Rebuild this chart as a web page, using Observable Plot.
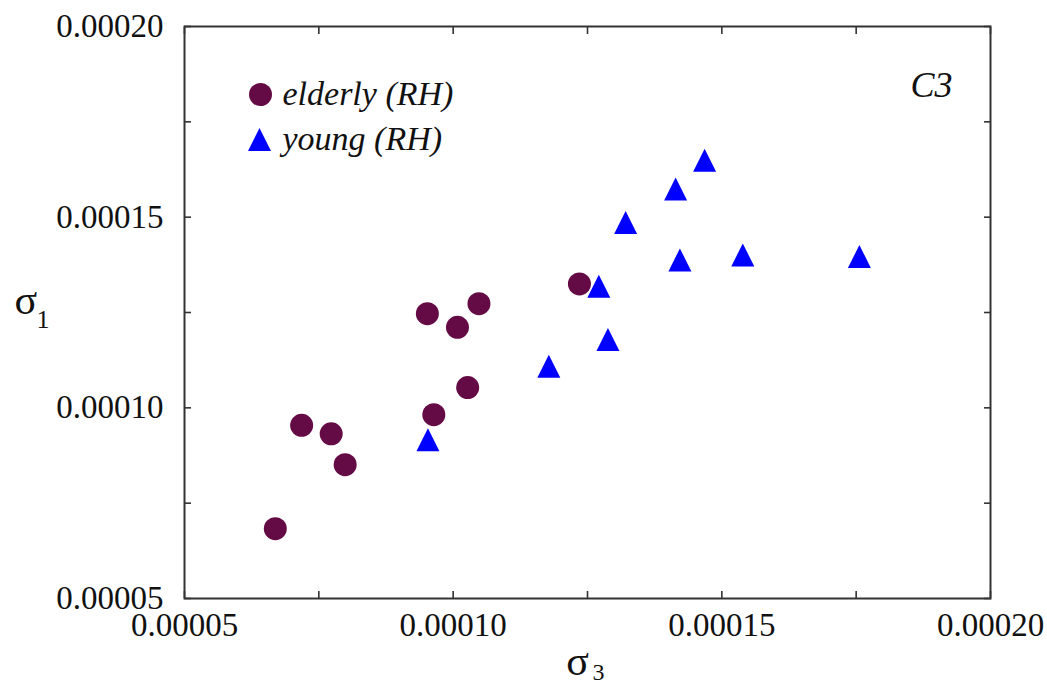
<!DOCTYPE html>
<html><head><meta charset="utf-8">
<script src="https://cdn.jsdelivr.net/npm/d3@7"></script>
<script src="https://cdn.jsdelivr.net/npm/@observablehq/plot@0.6"></script>
<style>body{margin:0;background:#fff}</style>
</head><body><div id="chart"></div>
<script>
// ---- data ----
const seriesNames = ["elderly (RH)", "young (RH)"];
const elderlyX = [0.0000669, 0.0000718, 0.0000773, 0.0000799, 0.0000952, 0.0000964, 0.0001008, 0.0001027, 0.0001048, 0.0001235];
const elderlyY = [0.0000683, 0.0000954, 0.0000932, 0.0000851, 0.0001247, 0.0000982, 0.0001211, 0.0001053, 0.0001273, 0.0001325];
const youngX = [0.0000953, 0.0001178, 0.0001271, 0.0001288, 0.0001321, 0.0001414, 0.0001422, 0.0001468, 0.0001539, 0.0001756];
const youngY = [0.0000916, 0.0001109, 0.0001319, 0.0001179, 0.0001486, 0.0001574, 0.0001388, 0.0001649, 0.0001401, 0.0001397];
const majorTicks = [0.00005, 0.00010, 0.00015, 0.00020];
const minorTicks = [0.00005, 0.000075, 0.00010, 0.000125, 0.00015, 0.000175, 0.00020];
const axisSymbol = "σ";
const xSub = "3";
const ySub = "1";
const panelLabel = "C3";

// ---- build ----
const elderly = elderlyX.map((x, i) => ({x, y: elderlyY[i]}));
const young = youngX.map((x, i) => ({x, y: youngY[i]}));
const fmt = d3.format(".5f");
const serif = "Liberation Serif";
const maroon = "#640a44";
const blue = "#0000ff";
const ink = "#111";
const frameInk = "#333";

// isoceles triangle: width == height, centred on its vertical midpoint
const tri = {
  draw(ctx, size) {
    const r = Math.sqrt(size / Math.PI);
    ctx.moveTo(0, -r);
    ctx.lineTo(r, r);
    ctx.lineTo(-r, r);
    ctx.closePath();
  }
};

const tickOpts = {ticks: minorTicks, tickSize: -7, fill: "none", stroke: frameInk, strokeWidth: 1.6, label: null};
const labOpts = {ticks: majorTicks, tickSize: 0, tickFormat: fmt, fontSize: 33, fontFamily: serif, fill: ink, stroke: "none", label: null};
const txt = {text: d => d, fontFamily: serif, fill: ink, lineAnchor: "middle"};

const chart = Plot.plot({
  width: 1047, height: 688,
  marginLeft: 184, marginRight: 57, marginTop: 26, marginBottom: 90,
  style: {fontFamily: serif, background: "#fff", overflow: "visible"},
  x: {domain: [0.00005, 0.0002], label: null},
  y: {domain: [0.00005, 0.0002], label: null},
  marks: [
    Plot.axisX({...tickOpts, anchor: "bottom"}),
    Plot.axisX({...tickOpts, anchor: "top"}),
    Plot.axisY({...tickOpts, anchor: "left"}),
    Plot.axisY({...tickOpts, anchor: "right"}),
    Plot.axisX({...labOpts, anchor: "bottom", tickPadding: 14}),
    Plot.axisY({...labOpts, anchor: "left", tickPadding: 21}),
    Plot.frame({stroke: frameInk, strokeWidth: 2}),
    Plot.dot(elderly, {x: "x", y: "y", r: 11.5, fill: maroon, symbol: "circle"}),
    Plot.dot(young, {x: "x", y: "y", r: 11.5, fill: blue, symbol: tri}),
    // legend
    Plot.dot([seriesNames[0]], {frameAnchor: "top-left", dx: 76, dy: 68, r: 11.5, fill: maroon, symbol: "circle"}),
    Plot.dot([seriesNames[1]], {frameAnchor: "top-left", dx: 75, dy: 113, r: 11.5, fill: blue, symbol: tri}),
    Plot.text([seriesNames[0]], {...txt, frameAnchor: "top-left", dx: 98, dy: 68, textAnchor: "start", fontStyle: "italic", fontSize: 34}),
    Plot.text([seriesNames[1]], {...txt, frameAnchor: "top-left", dx: 98, dy: 113, textAnchor: "start", fontStyle: "italic", fontSize: 34}),
    Plot.text([panelLabel], {...txt, frameAnchor: "top-right", dx: -38, dy: 59, textAnchor: "end", fontStyle: "italic", fontSize: 36}),
    // axis labels
    Plot.text([axisSymbol], {...txt, frameAnchor: "bottom", dx: -10, dy: 63, fontSize: 42}),
    Plot.text([xSub], {...txt, frameAnchor: "bottom", dx: 11, dy: 74, fontSize: 24}),
    Plot.text([axisSymbol], {...txt, frameAnchor: "left", dx: -170, dy: -12, fontSize: 42}),
    Plot.text([ySub], {...txt, frameAnchor: "left", dx: -148, dy: 7, fontSize: 26})
  ]
});
document.getElementById("chart").appendChild(chart);
</script>
</body></html>
